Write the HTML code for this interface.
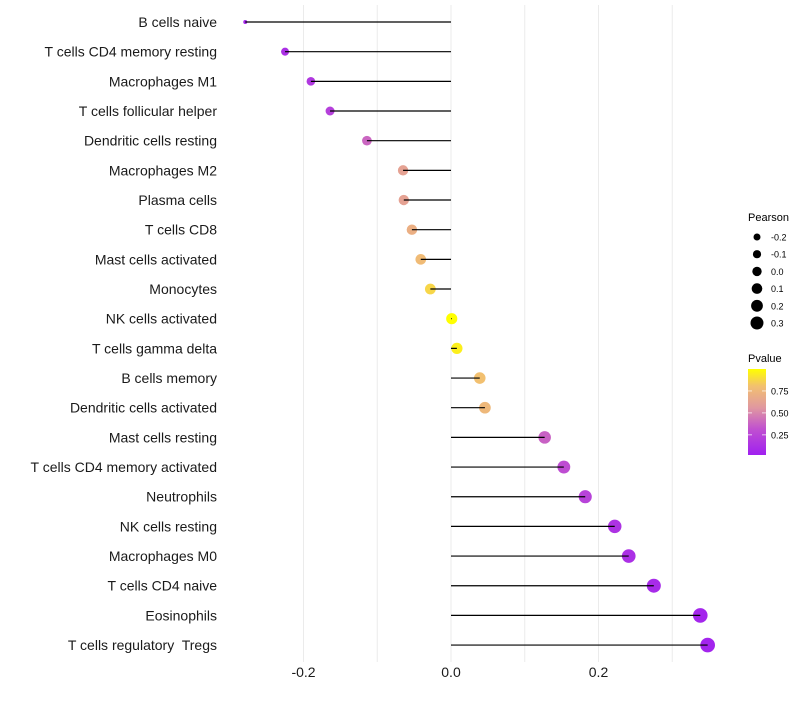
<!DOCTYPE html>
<html><head><meta charset="utf-8"><style>
body{margin:0;background:#fff;font-family:"Liberation Sans",sans-serif;}
text{white-space:pre;}
</style></head><body>
<svg id="chart" width="800" height="700" xmlns="http://www.w3.org/2000/svg">
<defs><linearGradient id="pg" x1="0" y1="1" x2="0" y2="0">
<stop offset="0" stop-color="#a020f0"/><stop offset="0.3" stop-color="#c050d0"/><stop offset="0.55" stop-color="#e098a0"/><stop offset="0.8" stop-color="#f2c070"/><stop offset="1" stop-color="#ffff00"/></linearGradient></defs>
<g id="grid"></g><g id="marks"></g><g id="labels"></g><g id="legend"></g>
</svg>
<script>
const categories=["B cells naive","T cells CD4 memory resting","Macrophages M1","T cells follicular helper","Dendritic cells resting","Macrophages M2","Plasma cells","T cells CD8","Mast cells activated","Monocytes","NK cells activated","T cells gamma delta","B cells memory","Dendritic cells activated","Mast cells resting","T cells CD4 memory activated","Neutrophils","NK cells resting","Macrophages M0","T cells CD4 naive","Eosinophils","T cells regulatory  Tregs"];
const pearson=[-0.279,-0.225,-0.190,-0.164,-0.114,-0.065,-0.064,-0.053,-0.041,-0.028,0.001,0.008,0.039,0.046,0.127,0.153,0.182,0.222,0.241,0.275,0.338,0.348];
const pvalue=[0.05,0.1,0.15,0.2,0.38,0.62,0.62,0.7,0.77,0.87,1.0,0.95,0.8,0.75,0.36,0.28,0.22,0.12,0.1,0.07,0.04,0.03];
const xTicks=[-0.2,0,0.2];
const xTickLabels=["-0.2","0.0","0.2"];
const legendSizes=[-0.2,-0.1,0.0,0.1,0.2,0.3];
const legendSizeLabels=["-0.2","-0.1","0.0","0.1","0.2","0.3"];
const NS="http://www.w3.org/2000/svg";
const x=v=>451+v*737.5;
const y=i=>22+i*29.67;
const r=v=>v<-0.26?2:Math.sqrt(Math.max(4,31+66*v));
const stops=[[0,[160,32,240]],[0.3,[192,80,208]],[0.55,[224,150,160]],[0.8,[242,192,112]],[1,[255,255,0]]];
function col(p){p=Math.max(0,Math.min(1,p));for(let k=1;k<stops.length;k++){if(p<=stops[k][0]){const a=stops[k-1],b=stops[k],t=(p-a[0])/(b[0]-a[0]);return"rgb("+a[1].map((c,j)=>Math.round(c+(b[1][j]-c)*t)).join(",")+")";}}return"rgb(255,255,0)";}
function mk(tag,at,parent,txt){const e=document.createElementNS(NS,tag);for(const k in at)e.setAttribute(k,at[k]);if(txt!==undefined)e.textContent=txt;document.getElementById(parent).appendChild(e);return e;}
[-0.2,-0.1,0,0.1,0.2,0.3].forEach(v=>{const g=mk("line",{x1:x(v),x2:x(v),y1:5,y2:662,stroke:"#ebebeb","stroke-width":1},"grid");

});
categories.forEach((c,i)=>{
const d=mk("circle",{cx:x(pearson[i]),cy:y(i),r:r(pearson[i]),fill:col(pvalue[i])},"marks");


const l=mk("line",{x1:x(0),x2:x(pearson[i]),y1:y(i),y2:y(i),stroke:"#000","stroke-width":1.2},"marks");


const t=mk("text",{x:217,y:y(i)+5,"text-anchor":"end","font-size":14,fill:"#1a1a1a"},"labels",c);


});
xTicks.forEach((v,i)=>{const t=mk("text",{x:x(v),y:677,"text-anchor":"middle","font-size":14,fill:"#1a1a1a"},"labels",xTickLabels[i]);

});
const lt=mk("text",{x:748,y:221,"font-size":11},"legend","Pearson");


legendSizes.forEach((v,i)=>{const cy=237+i*17.2;
const c=mk("circle",{cx:757,cy:cy,r:3.5+i*0.6,fill:"#000"},"legend");


const t=mk("text",{x:771,y:cy+3.5,"font-size":9},"legend",legendSizeLabels[i]);

});
const pt=mk("text",{x:748,y:362,"font-size":11},"legend","Pvalue");


const bar=mk("rect",{x:748,y:369,width:18,height:86,fill:"url(#pg)"},"legend");


[[0.75,"0.75"],[0.5,"0.50"],[0.25,"0.25"]].forEach(([v,s])=>{const cy=455-(v-0.02)/0.98*86;
mk("line",{x1:748,x2:752,y1:cy,y2:cy,stroke:"#fff","stroke-opacity":0.7},"legend");
mk("line",{x1:762,x2:766,y1:cy,y2:cy,stroke:"#fff","stroke-opacity":0.7},"legend");
const t=mk("text",{x:771,y:cy+3.5,"font-size":9},"legend",s);

});
</script>
</body></html>
